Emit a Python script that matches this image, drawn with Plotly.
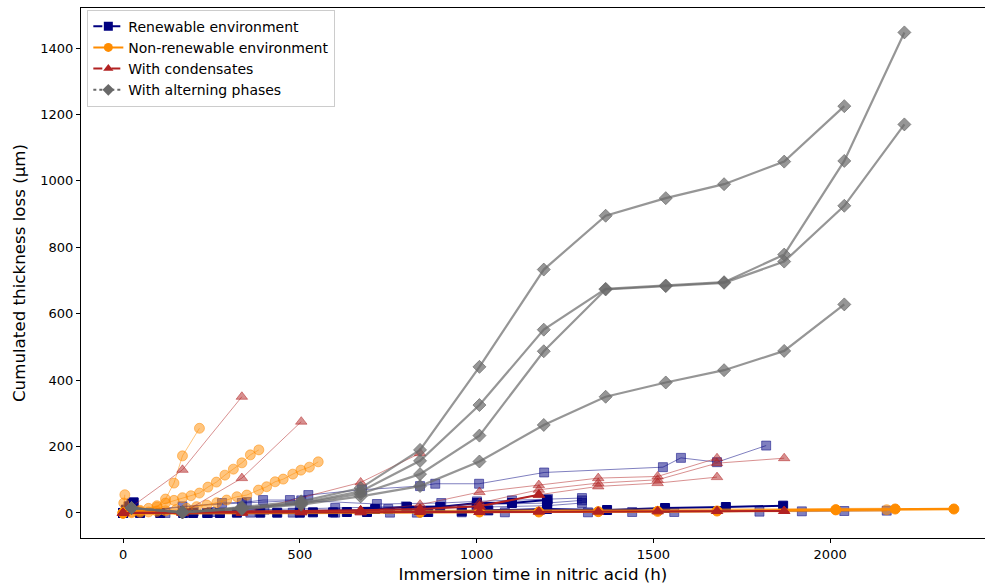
import plotly.graph_objects as go

# ---------------- data: immersion time (h) / cumulated thickness loss (µm) ----------------
# Renewable environment (navy squares)
renew_time_1 = [0, 8, 16, 24, 30]
renew_loss_1 = [0, 10, 20, 28, 32]
renew_time_2 = [0, 48, 170, 238, 322, 436, 537, 633, 713, 803, 897, 1001, 1100, 1199]
renew_loss_2 = [0, 0, 0, 0, 1, 1, 2, 3, 12, 18, 18, 30, 30, 39]
renew_time_3 = [0, 105, 198, 274, 388, 500, 594, 690, 863, 958, 1033, 1199, 1369, 1533, 1705, 1867]
renew_loss_3 = [0, 0, 0, 0, 1, 1, 2, 3, 3, 5, 8, 12, 9, 15, 18, 22]
renew_time_4 = [0, 280, 350, 396, 472, 524, 676, 840, 883, 1007, 1191, 1527, 1578, 1680, 1819]
renew_loss_4 = [0, 30, 33, 39, 39, 54, 70, 81, 88, 88, 122, 138, 166, 153, 203]
renew_time_5 = [0, 168, 336, 504, 718, 900, 1001, 1100, 1202, 1298]
renew_loss_5 = [0, 20, 30, 38, 27, 30, 35, 38, 42, 45]
renew_time_6 = [0, 200, 400, 600, 800, 1000, 1200, 1298]
renew_loss_6 = [0, 5, 10, 15, 20, 25, 30, 38]
renew_time_7 = [0, 250, 500, 750, 1000, 1200, 1298]
renew_loss_7 = [0, 3, 8, 12, 18, 22, 30]
renew_time_8 = [0, 120, 240, 360, 480, 600, 755, 831, 958, 1080, 1315, 1440, 1559, 1800, 1920, 2040, 2160]
renew_loss_8 = [0, 0, 0, 1, 1, 1, 1, 1, 2, 2, 2, 3, 3, 4, 5, 6, 7]

# Non-renewable environment (orange circles)
nonren_time_1 = [0, 48, 96, 120, 144, 168, 216]
nonren_loss_1 = [0, 5, 18, 42, 90, 172, 255]
nonren_time_2 = [0, 24, 48, 72, 96, 120, 144, 168, 192, 216, 240, 264, 288, 312, 336, 360, 384]
nonren_loss_2 = [0, 3, 8, 14, 22, 30, 38, 46, 52, 60, 78, 93, 114, 132, 151, 175, 190]
nonren_time_3 = [0, 24, 48, 72, 96, 120, 150, 180, 208, 237, 265, 293, 322, 350, 383, 406,
                 430, 453, 480, 503, 527, 552]
nonren_loss_3 = [0, 1, 2, 3, 5, 7, 10, 14, 19, 24, 31, 39, 49, 54, 69, 79, 94, 102, 117, 129, 138, 154]
nonren_time_4 = [0, 840, 1008, 1176, 1344, 1512, 1680, 2016, 2184, 2350]
nonren_loss_4 = [0, 2, 3, 3, 4, 5, 6, 10, 12, 12]
nonren_time_5 = [0, 2016, 2160]
nonren_loss_5 = [0, 9, 10]
nonren_time_6 = [0, 2, 5]
nonren_loss_6 = [0, 30, 55]

# With condensates (red triangles)
cond_time_1 = [0, 168, 336]
cond_loss_1 = [0, 130, 350]
cond_time_2 = [168, 336, 504]
cond_loss_2 = [0, 105, 275]
cond_time_3 = [336, 672, 840]
cond_loss_3 = [0, 92, 180]
cond_time_4 = [672, 840, 1008, 1176, 1344, 1512, 1680]
cond_loss_4 = [5, 25, 63, 84, 105, 110, 165]
cond_time_5 = [840, 1008, 1176, 1344, 1512, 1680, 1870]
cond_loss_5 = [10, 30, 70, 90, 100, 150, 165]
cond_time_6 = [1008, 1176, 1344, 1512, 1680]
cond_loss_6 = [20, 55, 80, 90, 108]
cond_time_7 = [0, 168, 336, 504, 672, 840, 1008, 1176]
cond_loss_7 = [0, 2, 3, 5, 8, 12, 20, 55]
cond_time_8 = [0, 168, 336, 504, 672, 840, 1008, 1176, 1344, 1512, 1680, 1870]
cond_loss_8 = [0, 1, 1, 2, 2, 3, 3, 4, 4, 5, 6, 6]

# With alternating phases (gray diamonds)
alt_time_a = [24, 168, 336, 504, 672, 840, 1008, 1190, 1365, 1535, 1700, 1870, 2040]
alt_loss_a = [15, 2, 18, 35, 75, 190, 440, 733, 895, 948, 990, 1058, 1225]
alt_time_b = [24, 168, 336, 504, 672, 840, 1008, 1190, 1365, 1535, 1700, 1870, 2040, 2210]
alt_loss_b = [15, 2, 15, 30, 65, 157, 325, 552, 675, 685, 695, 778, 1060, 1447]
alt_time_c = [24, 168, 336, 504, 672, 840, 1008, 1190, 1365, 1535, 1700, 1870, 2040, 2210]
alt_loss_c = [15, 2, 14, 28, 58, 117, 233, 487, 673, 683, 693, 757, 925, 1170]
alt_time_d = [24, 168, 336, 504, 672, 840, 1008, 1190, 1365, 1535, 1700, 1870, 2040]
alt_loss_d = [15, 2, 12, 25, 50, 81, 155, 265, 350, 393, 430, 488, 628]

x_ticks = [0, 500, 1000, 1500, 2000]
y_ticks = [0, 200, 400, 600, 800, 1000, 1200, 1400]

# ---------------- styling ----------------
NAVY = "0,0,128"
ORANGE = "255,140,0"
RED = "178,34,34"
GRAY = "105,105,105"
FONT = "DejaVu Sans"


def rgba(rgb, a):
    return f"rgba({rgb},{a})"


fig = go.Figure()


def add_series(x, y, rgb, symbol, alpha, width, size):
    c = rgba(rgb, alpha)
    fig.add_trace(go.Scatter(
        x=x, y=y, mode="lines+markers", showlegend=False, hoverinfo="skip",
        line=dict(color=c, width=width),
        marker=dict(symbol=symbol, size=size, color=c, line=dict(color=c, width=1)),
    ))


# renewable
for x, y in [(renew_time_4, renew_loss_4), (renew_time_5, renew_loss_5), (renew_time_6, renew_loss_6),
             (renew_time_7, renew_loss_7), (renew_time_8, renew_loss_8)]:
    add_series(x, y, NAVY, "square", 0.5, 1, 9)
for x, y in [(renew_time_1, renew_loss_1), (renew_time_2, renew_loss_2), (renew_time_3, renew_loss_3)]:
    add_series(x, y, NAVY, "square", 1.0, 2, 9)

# non-renewable
for x, y in [(nonren_time_1, nonren_loss_1), (nonren_time_2, nonren_loss_2), (nonren_time_3, nonren_loss_3),
             (nonren_time_6, nonren_loss_6)]:
    add_series(x, y, ORANGE, "circle", 0.5, 1, 10)
add_series(nonren_time_5, nonren_loss_5, ORANGE, "circle", 0.5, 4, 10)
add_series(nonren_time_4, nonren_loss_4, ORANGE, "circle", 1.0, 2.5, 10)

# condensates
for x, y in [(cond_time_1, cond_loss_1), (cond_time_2, cond_loss_2), (cond_time_3, cond_loss_3),
             (cond_time_4, cond_loss_4), (cond_time_5, cond_loss_5), (cond_time_6, cond_loss_6)]:
    add_series(x, y, RED, "triangle-up", 0.5, 1, 10)
for x, y in [(cond_time_7, cond_loss_7), (cond_time_8, cond_loss_8)]:
    add_series(x, y, RED, "triangle-up", 1.0, 2, 10)

# alternating phases
for x, y in [(alt_time_a, alt_loss_a), (alt_time_b, alt_loss_b), (alt_time_c, alt_loss_c),
             (alt_time_d, alt_loss_d)]:
    add_series(x, y, GRAY, "diamond", 0.7, 2.2, 10)

# legend entries
legend_items = [
    ("Renewable environment", NAVY, "square", "dash"),
    ("Non-renewable environment", ORANGE, "circle", "solid"),
    ("With condensates", RED, "triangle-up", "dash"),
    ("With alterning phases", GRAY, "diamond", "dot"),
]
for name, rgb, symbol, dash in legend_items:
    fig.add_trace(go.Scatter(
        x=[None], y=[None], mode="lines+markers", name=name,
        line=dict(color=rgba(rgb, 1), width=2, dash=dash),
        marker=dict(symbol=symbol, size=9, color=rgba(rgb, 1)),
    ))

fig.update_layout(
    width=985, height=588,
    margin=dict(l=81, r=0, t=8, b=50),
    paper_bgcolor="white", plot_bgcolor="white",
    font=dict(family=FONT, size=13, color="black"),
    legend=dict(
        x=0.007, y=0.997, xanchor="left", yanchor="top",
        bgcolor="rgba(255,255,255,0.8)", bordercolor="#cccccc", borderwidth=1,
        font=dict(family=FONT, size=14, color="black"),
        tracegroupgap=0,
    ),
    xaxis=dict(
        range=[-119, 2438], tickvals=x_ticks, ticks="outside", ticklen=4, tickwidth=1,
        tickcolor="black", showline=True, linecolor="black", linewidth=1, mirror=True,
        showgrid=False, zeroline=False,
        title=dict(text="Immersion time in nitric acid (h)", font=dict(family=FONT, size=16.7), standoff=7),
        tickfont=dict(family=FONT, size=13),
    ),
    yaxis=dict(
        range=[-75.3, 1520.5], tickvals=y_ticks, ticks="outside", ticklen=4, tickwidth=1,
        tickcolor="black", showline=True, linecolor="black", linewidth=1, mirror=False,
        showgrid=False, zeroline=False,
        title=dict(text="Cumulated thickness loss (µm)", font=dict(family=FONT, size=16.7), standoff=10),
        tickfont=dict(family=FONT, size=13),
    ),
)

fig.write_html("out.html")
